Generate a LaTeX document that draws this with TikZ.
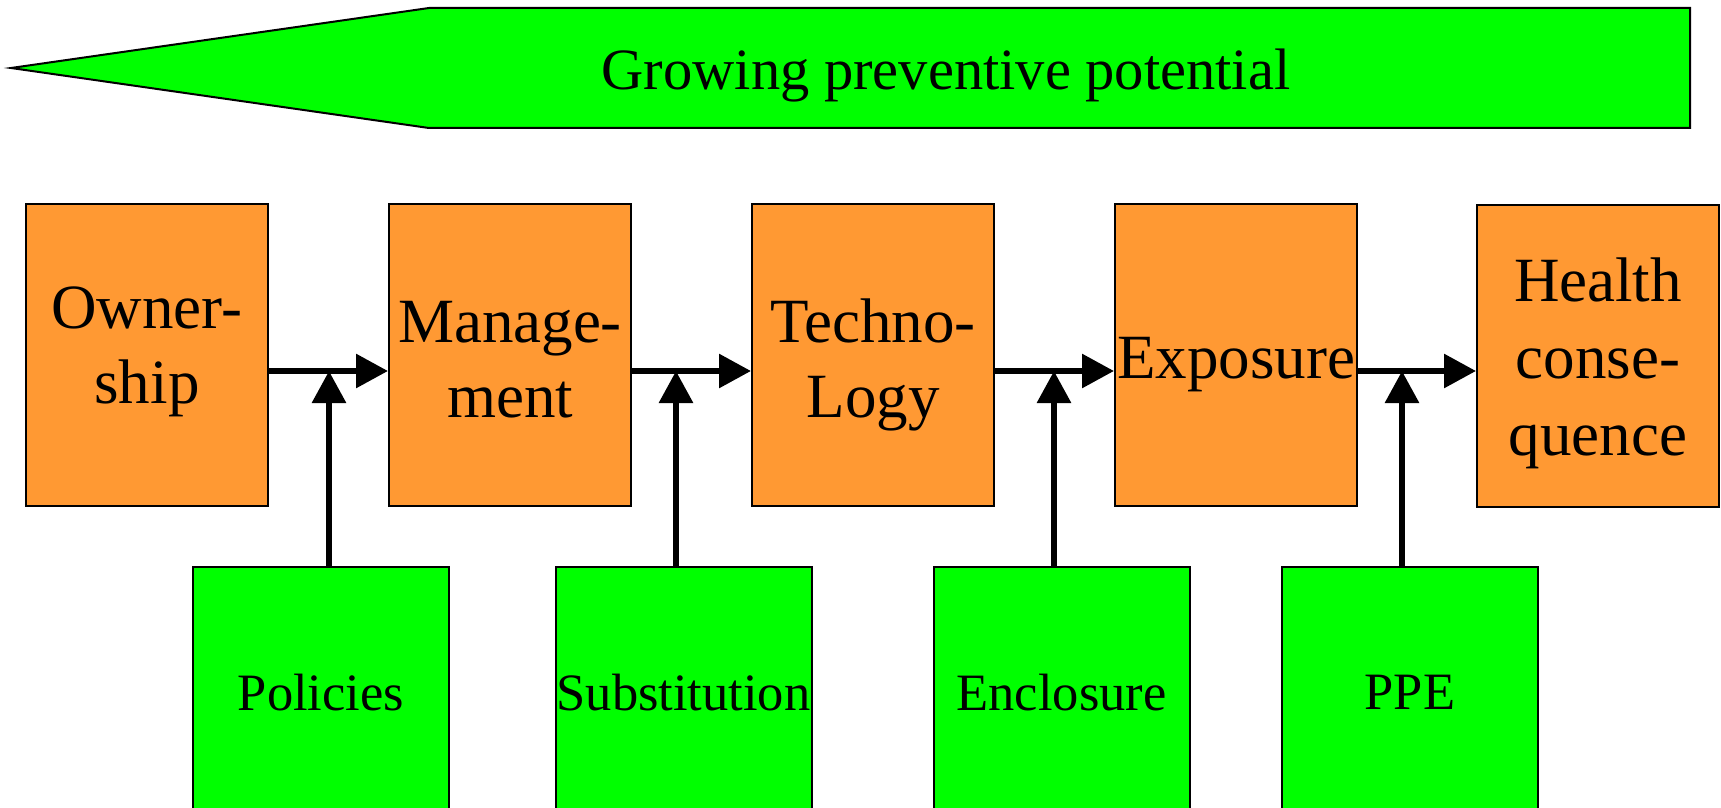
\documentclass[tikz,border=0pt]{standalone}
\usepackage{fontspec}
\setmainfont{Liberation Serif}
\usetikzlibrary{arrows.meta}
\definecolor{boxorange}{HTML}{FF9933}
\definecolor{boxgreen}{HTML}{00FF00}
\tikzset{
  obox/.style={draw=black, line width=1pt, fill=boxorange, rectangle, minimum width=121pt, minimum height=151pt, inner sep=0pt},
  gbox/.style={draw=black, line width=1pt, fill=boxgreen, rectangle, minimum width=128pt, minimum height=125.5pt, inner sep=0pt, font=\fontsize{26.25}{30}\selectfont},
  otxt/.style={inner sep=0pt, align=center, anchor=base, font=\fontsize{31.5}{37.5}\selectfont},
  conn/.style={line width=3pt, -{Triangle[length=16pt, width=16.5pt]}},
}
\begin{document}
\begin{tikzpicture}[x=0.5pt, y=-0.5pt]
\useasboundingbox (0,0) rectangle (1721,808);
\clip (0,0) rectangle (1721,808);
% top arrow
\draw[line width=1pt, fill=boxgreen] (11,68) -- (429,8) -- (1690,8) -- (1690,128) -- (429,128) -- cycle;
\node[inner sep=0pt, anchor=base, font=\fontsize{29.25}{34}\selectfont] (title) at (946,90) {Growing preventive potential};
% orange boxes
\node[obox] (own) at (147,355) {};
\node[obox] (man) at (510,355) {};
\node[obox] (tec) at (873,355) {};
\node[obox] (exp) at (1236,355) {};
\node[obox] (hea) at (1598,356) {};
% labels (anchor = baseline of last line)
\node[otxt] (ownt) at (147,403) {Owner-\\ship};
\node[otxt] (mant) at (510,417) {Manage-\\ment};
\node[otxt] (tect) at (873,417) {Techno-\\Logy};
\node[otxt] (expt) at (1236,379) {Exposure};
\node[otxt, font=\fontsize{31.5}{38.3}\selectfont] (heat) at (1598,455) {Health\\conse-\\quence};
% green boxes
\node[gbox] (pol) at (321,692.5) {Policies};
\node[gbox] (sub) at (683.5,692.5) {Substitution};
\node[gbox] (enc) at (1061.5,692.5) {Enclosure};
\node[gbox] (ppe) at (1410,692.5) {PPE};
% junctions
\coordinate (j1) at (329,371);
\coordinate (j2) at (676,371);
\coordinate (j3) at (1054,371);
\coordinate (j4) at (1402,371);
% horizontal arrows
\draw[conn] (own.east |- j1) -- (man.west |- j1);
\draw[conn] (man.east |- j2) -- (tec.west |- j2);
\draw[conn] (tec.east |- j3) -- (exp.west |- j3);
\draw[conn] (exp.east |- j4) -- (hea.west |- j4);
% vertical arrows
\draw[conn] (pol.north -| j1) -- (j1);
\draw[conn] (sub.north -| j2) -- (j2);
\draw[conn] (enc.north -| j3) -- (j3);
\draw[conn] (ppe.north -| j4) -- (j4);
\end{tikzpicture}
\end{document}
